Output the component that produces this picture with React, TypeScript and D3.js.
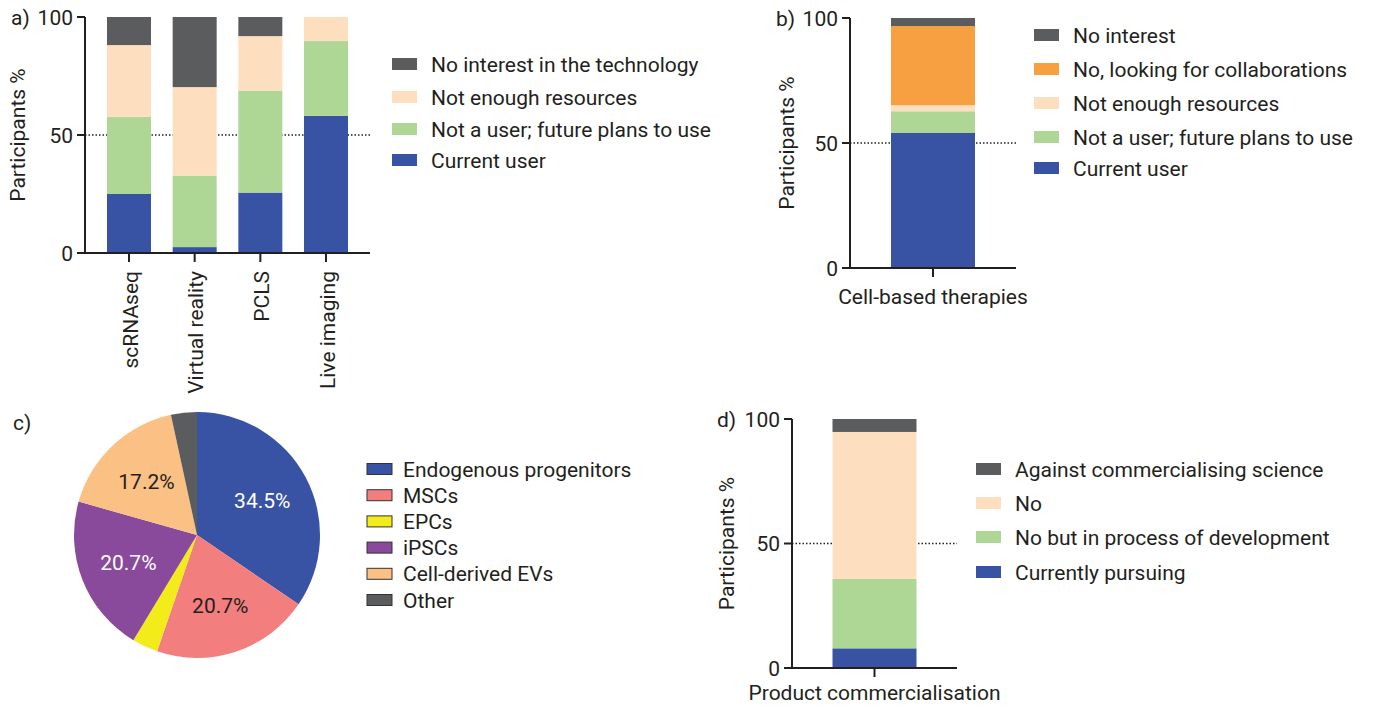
import React from "react";
import * as d3 from "d3";

// panel a
const techCategories = ["scRNAseq", "Virtual reality", "PCLS", "Live imaging"];
const techKeys = ["Current user", "Not a user; future plans to use", "Not enough resources", "No interest in the technology"];
const techCurrent = [25, 2.5, 25.6, 58.1];
const techFuture = [32.6, 30.3, 43.2, 31.7];
const techResources = [30.5, 37.5, 23.1, 10.2];
const techNoInterest = [11.9, 29.7, 8.1, 0];

// panel b
const cellCategories = ["Cell-based therapies"];
const cellKeys = ["Current user", "Not a user; future plans to use", "Not enough resources", "No, looking for collaborations", "No interest"];
const cellValues = [54, 8.7, 2.4, 31.7, 3.2];

// panel c
const pieLabels = ["Endogenous progenitors", "MSCs", "EPCs", "iPSCs", "Cell-derived EVs", "Other"];
const pieValues = [34.5, 20.7, 3.4, 20.7, 17.2, 3.4];

// panel d
const commCategories = ["Product commercialisation"];
const commKeys = ["Currently pursuing", "No but in process of development", "No", "Against commercialising science"];
const commValues = [7.9, 27.9, 59.0, 5.2];

const yTicks = [0, 50, 100];

const BLUE = "#3953a4";
const GREEN = "#aed695";
const PEACH = "#fddfc0";
const DARK = "#5b5c5e";
const ORANGE = "#f7a042";
const INK = "#231f20";
const FONT = "Roboto, 'Noto Sans', sans-serif";
const FS = 21;

type Panel = {
  tag: string;
  tagX: number;
  cats: string[];
  keys: string[];
  rows: number[][]; // rows[k][i]
  colors: string[];
  x0: number;
  x1: number;
  pad: number;
  barW: number;
  yBottom: number;
  yTop: number;
  ylabelX: number;
  rotateCats: boolean;
  catDy: number;
  legendX: number;
  legendY: number[];
};

function StackPanel({ p }: { p: Panel }) {
  const x = d3.scalePoint<string>().domain(p.cats).range([p.x0, p.x1]).padding(p.pad);
  const y = d3.scaleLinear().domain([0, 100]).range([p.yBottom, p.yTop]);
  const table = p.cats.map((c, i) => {
    const o: any = { cat: c };
    p.keys.forEach((k, j) => (o[k] = p.rows[j][i]));
    return o;
  });
  const series = d3.stack<any>().keys(p.keys)(table);
  const color = d3.scaleOrdinal<string, string>().domain(p.keys).range(p.colors);
  const legendOrder = [...p.keys].reverse();
  return (
    <g>
      <text x={p.tagX} y={p.yTop} dy="0.36em" fontSize={FS} fill={INK}>{p.tag}</text>
      <line x1={p.x0} x2={p.x1} y1={y(50)} y2={y(50)} stroke={INK} strokeWidth={1.3} strokeDasharray="1.5,2" />
      {series.map((s) => (
        <g key={s.key} fill={color(s.key)}>
          {s.map((d, i) => (
            <rect key={i} x={x(d.data.cat)! - p.barW / 2} width={p.barW} y={y(d[1])} height={Math.max(0, y(d[0]) - y(d[1]))} />
          ))}
        </g>
      ))}
      <line x1={p.x0} x2={p.x0} y1={p.yTop} y2={p.yBottom} stroke={INK} strokeWidth={2} />
      <line x1={p.x0 - 8} x2={p.x1} y1={p.yBottom} y2={p.yBottom} stroke={INK} strokeWidth={2} />
      {yTicks.map((t) => (
        <g key={t}>
          <line x1={p.x0 - 8} x2={p.x0} y1={y(t)} y2={y(t)} stroke={INK} strokeWidth={2} />
          <text x={p.x0 - 12} y={y(t)} dy="0.36em" textAnchor="end" fontSize={FS} fill={INK}>{t}</text>
        </g>
      ))}
      <text transform={`translate(${p.ylabelX},${(p.yTop + p.yBottom) / 2}) rotate(-90)`} textAnchor="middle" fontSize={FS} fill={INK}>Participants %</text>
      {p.cats.map((c) => (
        <g key={c}>
          <line x1={x(c)} x2={x(c)} y1={p.yBottom} y2={p.yBottom + 9} stroke={INK} strokeWidth={2} />
          {p.rotateCats ? (
            <text transform={`translate(${x(c)! + 1},${p.yBottom + 18}) rotate(-90)`} textAnchor="end" dy="0.36em" fontSize={FS} fill={INK}>{c}</text>
          ) : (
            <text x={x(c)} y={p.yBottom + p.catDy} textAnchor="middle" fontSize={FS} fill={INK}>{c}</text>
          )}
        </g>
      ))}
      {legendOrder.map((k, i) => (
        <g key={k} transform={`translate(${p.legendX},${p.legendY[i]})`}>
          <rect x={0} y={-6} width={25} height={12} fill={color(k)} />
          <text x={39} dy="0.36em" fontSize={FS} fill={INK}>{k}</text>
        </g>
      ))}
    </g>
  );
}

function PiePanel() {
  const cx = 197, cy = 535, r = 123;
  const pieColors = [BLUE, "#f37e7e", "#f4eb1a", "#8a4a9b", "#fbc083", DARK];
  const labelColors = ["#fff", INK, INK, "#fff", INK, INK];
  const arcs = d3.pie<number>().sort(null)(pieValues);
  const arc = d3.arc<d3.PieArcDatum<number>>().innerRadius(0).outerRadius(r);
  const labelArc = d3.arc<d3.PieArcDatum<number>>().innerRadius(r * 0.6).outerRadius(r * 0.6);
  return (
    <g>
      <text x={13} y={422} dy="0.36em" fontSize={FS} fill={INK}>c)</text>
      <g transform={`translate(${cx},${cy})`}>
        {arcs.map((a, i) => (
          <path key={i} d={arc(a)!} fill={pieColors[i]} />
        ))}
        {arcs.map((a, i) => {
          if (a.data < 10) return null;
          const [lx, ly] = labelArc.centroid(a);
          return (
            <text key={i} x={lx} y={ly} dy="0.36em" textAnchor="middle" fontSize={FS} fill={labelColors[i]}>
              {d3.format(".1f")(a.data)}%
            </text>
          );
        })}
      </g>
      {pieLabels.map((l, i) => (
        <g key={l} transform={`translate(367,${469 + i * 26.2})`}>
          <rect x={0} y={-5.5} width={25} height={11} fill={pieColors[i]} stroke="#333" strokeWidth={1} />
          <text x={36} dy="0.36em" fontSize={FS} fill={INK}>{l}</text>
        </g>
      ))}
    </g>
  );
}

const panelA: Panel = {
  tag: "a)", tagX: 11, cats: techCategories, keys: techKeys,
  rows: [techCurrent, techFuture, techResources, techNoInterest],
  colors: [BLUE, GREEN, PEACH, DARK],
  x0: 85, x1: 370, pad: 0.67, barW: 44, yBottom: 253, yTop: 17, ylabelX: 25,
  rotateCats: true, catDy: 36, legendX: 392, legendY: [64, 97, 129, 160],
};

const panelB: Panel = {
  tag: "b)", tagX: 776, cats: cellCategories, keys: cellKeys,
  rows: cellValues.map((v) => [v]),
  colors: [BLUE, GREEN, PEACH, ORANGE, DARK],
  x0: 850, x1: 1016, pad: 0.5, barW: 84, yBottom: 268, yTop: 18, ylabelX: 794,
  rotateCats: false, catDy: 36, legendX: 1034, legendY: [35, 69, 103, 137, 168],
};

const panelD: Panel = {
  tag: "d)", tagX: 717, cats: commCategories, keys: commKeys,
  rows: commValues.map((v) => [v]),
  colors: [BLUE, GREEN, PEACH, DARK],
  x0: 792, x1: 957, pad: 0.5, barW: 84, yBottom: 668, yTop: 419, ylabelX: 734,
  rotateCats: false, catDy: 32, legendX: 976, legendY: [469, 503, 537, 572],
};

export default function App() {
  return (
    <svg width={1376} height={707} style={{ position: "absolute", left: 0, top: 0, background: "#fff" }} fontFamily={FONT}>
      <StackPanel p={panelA} />
      <StackPanel p={panelB} />
      <PiePanel />
      <StackPanel p={panelD} />
    </svg>
  );
}
